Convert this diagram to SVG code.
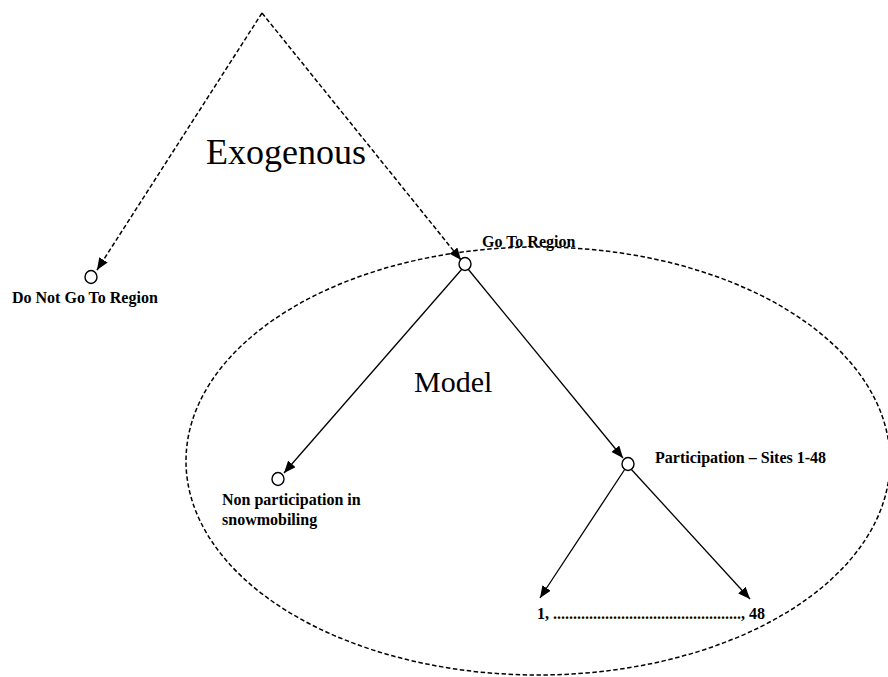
<svg xmlns="http://www.w3.org/2000/svg" width="888" height="677" viewBox="0 0 888 677">
  <style>
    .dash { fill: none; stroke: #000; stroke-width: 1.5; stroke-dasharray: 4.5 2.5; }
    .solid { fill: none; stroke: #000; stroke-width: 1.3; }
    .node { fill: #fff; stroke: #000; stroke-width: 1.4; }
    .lbl { font-family: "Liberation Serif", "Times New Roman", serif; font-weight: bold; font-size: 16px; fill: #000; }
    .big { font-family: "Liberation Serif", "Times New Roman", serif; fill: #000; }
  </style>
  <defs>
    <marker id="arrow" viewBox="0 0 12 10" refX="12" refY="5" markerWidth="12" markerHeight="10" markerUnits="userSpaceOnUse" orient="auto">
      <path d="M0,0 L12,5 L0,10 Z" fill="#000"/>
    </marker>
  </defs>

  <!-- model boundary -->
  <ellipse id="model-boundary" class="dash" cx="538" cy="461" rx="352" ry="214"/>

  <!-- connectors -->
  <g id="connectors">
    <line class="dash" x1="262" y1="13" x2="97" y2="270" marker-end="url(#arrow)"/>
    <line class="dash" x1="262" y1="13" x2="461" y2="260" marker-end="url(#arrow)"/>
    <line class="solid" x1="462" y1="269" x2="284" y2="473" marker-end="url(#arrow)"/>
    <line class="solid" x1="468" y1="269" x2="623" y2="458" marker-end="url(#arrow)"/>
    <line class="solid" x1="625" y1="469" x2="540" y2="598" marker-end="url(#arrow)"/>
    <line class="solid" x1="631" y1="469" x2="750" y2="599" marker-end="url(#arrow)"/>
  </g>

  <text class="big" x="206" y="164" font-size="36">Exogenous</text>
  <text class="big" x="414" y="392" font-size="30">Model</text>

  <g id="do-not-go">
    <ellipse class="node" cx="91" cy="277" rx="6" ry="6.5"/>
    <text class="lbl" x="12" y="303">Do Not Go To Region</text>
  </g>
  <g id="go-to-region">
    <ellipse class="node" cx="465" cy="264" rx="6" ry="6.5"/>
    <text class="lbl" x="482" y="247">Go To Region</text>
  </g>
  <g id="non-participation">
    <ellipse class="node" cx="278" cy="479" rx="6" ry="6.5"/>
    <text class="lbl" x="222" y="505">Non participation in</text>
    <text class="lbl" x="222" y="525">snowmobiling</text>
  </g>
  <g id="participation">
    <ellipse class="node" cx="628" cy="464" rx="6" ry="6.5"/>
    <text class="lbl" x="655" y="463">Participation – Sites 1-48</text>
  </g>
  <g id="sites">
    <text class="lbl" x="537" y="619">1, ..............................................., 48</text>
  </g>
</svg>
